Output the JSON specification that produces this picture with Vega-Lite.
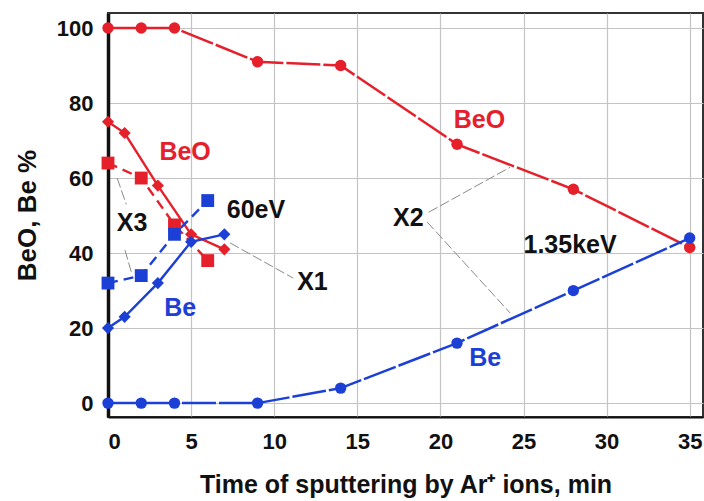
{
  "$schema": "https://vega.github.io/schema/vega-lite/v6.json",
  "width": 595,
  "height": 404,
  "autosize": "none",
  "padding": {"left": 108, "top": 13, "right": 1, "bottom": 84},
  "background": "white",
  "config": {
    "font": "Liberation Sans",
    "view": {"stroke": "#333333", "strokeWidth": 2},
    "axis": {
      "grid": true,
      "gridColor": "#c4c4c4",
      "gridWidth": 1.2,
      "ticks": false,
      "labelFont": "Liberation Sans",
      "labelFontWeight": "bold",
      "labelFontSize": 22,
      "labelColor": "#111111",
      "titleFont": "Liberation Sans",
      "titleFontWeight": "bold",
      "titleColor": "#111111",
      "domainColor": "#111111"
    }
  },
  "datasets": {
    "profiles": [
      {"run": "1.35keV", "species": "BeO", "t": 0, "pct": 100},
      {"run": "1.35keV", "species": "BeO", "t": 2, "pct": 100},
      {"run": "1.35keV", "species": "BeO", "t": 4, "pct": 100},
      {"run": "1.35keV", "species": "BeO", "t": 9, "pct": 91},
      {"run": "1.35keV", "species": "BeO", "t": 14, "pct": 90},
      {"run": "1.35keV", "species": "BeO", "t": 21, "pct": 69},
      {"run": "1.35keV", "species": "BeO", "t": 28, "pct": 57},
      {"run": "1.35keV", "species": "BeO", "t": 35, "pct": 41.5},
      {"run": "1.35keV", "species": "Be", "t": 0, "pct": 0},
      {"run": "1.35keV", "species": "Be", "t": 2, "pct": 0},
      {"run": "1.35keV", "species": "Be", "t": 4, "pct": 0},
      {"run": "1.35keV", "species": "Be", "t": 9, "pct": 0},
      {"run": "1.35keV", "species": "Be", "t": 14, "pct": 4},
      {"run": "1.35keV", "species": "Be", "t": 21, "pct": 16},
      {"run": "1.35keV", "species": "Be", "t": 28, "pct": 30},
      {"run": "1.35keV", "species": "Be", "t": 35, "pct": 44},
      {"run": "60eV", "species": "BeO", "t": 0, "pct": 75},
      {"run": "60eV", "species": "BeO", "t": 1, "pct": 72},
      {"run": "60eV", "species": "BeO", "t": 3, "pct": 58},
      {"run": "60eV", "species": "BeO", "t": 5, "pct": 45},
      {"run": "60eV", "species": "BeO", "t": 7, "pct": 41},
      {"run": "60eV", "species": "Be", "t": 0, "pct": 20},
      {"run": "60eV", "species": "Be", "t": 1, "pct": 23},
      {"run": "60eV", "species": "Be", "t": 3, "pct": 32},
      {"run": "60eV", "species": "Be", "t": 5, "pct": 43},
      {"run": "60eV", "species": "Be", "t": 7, "pct": 45},
      {"run": "X3", "species": "BeO", "t": 0, "pct": 64},
      {"run": "X3", "species": "BeO", "t": 2, "pct": 60},
      {"run": "X3", "species": "BeO", "t": 4, "pct": 47.5},
      {"run": "X3", "species": "BeO", "t": 6, "pct": 38},
      {"run": "X3", "species": "Be", "t": 0, "pct": 32},
      {"run": "X3", "species": "Be", "t": 2, "pct": 34},
      {"run": "X3", "species": "Be", "t": 4, "pct": 45},
      {"run": "X3", "species": "Be", "t": 6, "pct": 54}
    ],
    "leaders": [
      {"t": 0.55, "pct": 60, "t2": 1.1, "pct2": 53},
      {"t": 1.02, "pct": 40.8, "t2": 1.4, "pct2": 35},
      {"t": 7.35, "pct": 42.7, "t2": 11.15, "pct2": 33.3},
      {"t": 19.3, "pct": 50.9, "t2": 24.2, "pct2": 62.9},
      {"t": 19.2, "pct": 48.3, "t2": 24.2, "pct2": 24}
    ],
    "notes": [
      {"text": "BeO", "kind": "BeO", "t": 4.64, "pct": 66.9},
      {"text": "60eV", "kind": "note", "t": 8.9, "pct": 51.5},
      {"text": "X3", "kind": "note", "t": 1.45, "pct": 48},
      {"text": "Be", "kind": "Be", "t": 4.34, "pct": 25.3},
      {"text": "X1", "kind": "note", "t": 12.3, "pct": 32.3},
      {"text": "X2", "kind": "note", "t": 18.07, "pct": 49.3},
      {"text": "1.35keV", "kind": "note", "t": 27.8, "pct": 42.1},
      {"text": "BeO", "kind": "BeO", "t": 22.35, "pct": 75.5},
      {"text": "Be", "kind": "Be", "t": 22.7, "pct": 12}
    ]
  },
  "encoding": {
    "x": {
      "field": "t",
      "type": "quantitative",
      "scale": {"domain": [0, 35.8], "nice": false, "zero": false},
      "axis": {
        "values": [0, 5, 10, 15, 20, 25, 30, 35],
        "labelPadding": 14,
        "domainWidth": 2,
        "titleFontSize": 25,
        "titlePadding": 20
      },
      "title": "Time of sputtering by Ar⁺ ions, min"
    },
    "y": {
      "field": "pct",
      "type": "quantitative",
      "scale": {"domain": [-3.7, 104], "nice": false, "zero": false},
      "axis": {
        "values": [0, 20, 40, 60, 80, 100],
        "labelPadding": 15,
        "domainWidth": 3.5,
        "titleFontSize": 26,
        "titlePadding": 16
      },
      "title": "BeO, Be %"
    }
  },
  "layer": [
    {
      "data": {"name": "leaders"},
      "mark": {"type": "rule", "color": "#8a8a8a", "strokeWidth": 1, "strokeDash": [10, 3]},
      "encoding": {
        "x2": {"field": "t2"},
        "y2": {"field": "pct2"}
      }
    },
    {
      "data": {"name": "profiles"},
      "transform": [{"filter": "datum.run === '1.35keV'"}],
      "mark": {"type": "line", "strokeWidth": 2.5, "strokeDash": [34, 3]},
      "encoding": {
        "detail": {"field": "species"},
        "color": {"field": "species", "type": "nominal", "scale": {"domain": ["BeO", "Be", "note"], "range": ["#e5202b", "#1c40d6", "#111111"]}, "legend": null}
      }
    },
    {
      "data": {"name": "profiles"},
      "transform": [{"filter": "datum.run === '60eV'"}],
      "mark": {"type": "line", "strokeWidth": 2.4},
      "encoding": {
        "detail": {"field": "species"},
        "color": {"field": "species", "type": "nominal", "legend": null}
      }
    },
    {
      "data": {"name": "profiles"},
      "transform": [{"filter": "datum.run === 'X3'"}],
      "mark": {"type": "line", "strokeWidth": 2.4, "strokeDash": [10, 6]},
      "encoding": {
        "detail": {"field": "species"},
        "color": {"field": "species", "type": "nominal", "legend": null}
      }
    },
    {
      "data": {"name": "profiles"},
      "mark": {"type": "point", "filled": true, "opacity": 1},
      "encoding": {
        "color": {"field": "species", "type": "nominal", "legend": null},
        "shape": {"field": "run", "type": "nominal", "scale": {"domain": ["1.35keV", "60eV", "X3"], "range": ["circle", "diamond", "square"]}, "legend": null},
        "size": {"field": "run", "type": "nominal", "scale": {"domain": ["1.35keV", "60eV", "X3"], "range": [130, 165, 110]}, "legend": null}
      }
    },
    {
      "data": {"name": "notes"},
      "mark": {"type": "text", "font": "Liberation Sans", "fontWeight": "bold", "fontSize": 25, "align": "center", "baseline": "middle"},
      "encoding": {
        "text": {"field": "text"},
        "color": {"field": "kind", "type": "nominal", "legend": null}
      }
    }
  ]
}
